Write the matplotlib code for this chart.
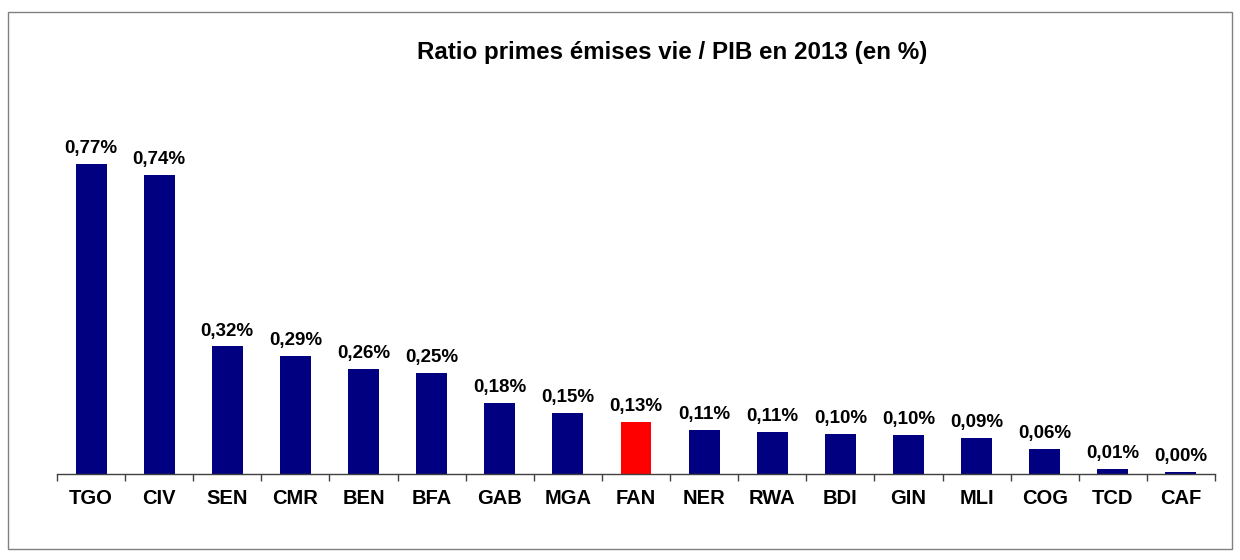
import numpy as np
import matplotlib.pyplot as plt
from matplotlib.patches import Rectangle

plt.rcParams['font.family'] = ['Liberation Sans', 'DejaVu Sans']

# donnees
pays = ["TGO", "CIV", "SEN", "CMR", "BEN", "BFA", "GAB", "MGA", "FAN",
        "NER", "RWA", "BDI", "GIN", "MLI", "COG", "TCD", "CAF"]
ratio = [0.772, 0.745, 0.318, 0.294, 0.261, 0.252, 0.177, 0.152, 0.130,
         0.109, 0.105, 0.100, 0.097, 0.091, 0.062, 0.012, 0.004]
etiquettes = ["0,77%", "0,74%", "0,32%", "0,29%", "0,26%", "0,25%", "0,18%",
              "0,15%", "0,13%", "0,11%", "0,11%", "0,10%", "0,10%", "0,09%",
              "0,06%", "0,01%", "0,00%"]
surligne = "FAN"

W, H = 1240, 560
fig = plt.figure(figsize=(W / 100, H / 100), dpi=100)

# cadre exterieur
fig.patches.append(Rectangle((8 / W, 1 - 549 / H), (1232 - 8) / W, (549 - 12) / H,
                             transform=fig.transFigure, fill=False,
                             edgecolor="#808080", linewidth=1.0))

ax = fig.add_axes([57 / W, 1 - 474 / H, (1215 - 57) / W, (474 - 100) / H])

x = np.arange(len(pays))
couleurs = ["#FF0000" if p == surligne else "#000080" for p in pays]
ax.bar(x, ratio, width=0.455, color=couleurs, edgecolor="none", zorder=2)

for xi, v, t in zip(x, ratio, etiquettes):
    ax.annotate(t, (xi, v), xytext=(0, 5), textcoords="offset points",
                ha="center", va="bottom", fontsize=13.5, fontweight="bold")

ax.set_xlim(-0.5, len(pays) - 0.5)
ax.set_ylim(0, (474 - 100) / 401)

ax.set_xticks(x)
ax.set_xticklabels(pays, fontsize=14.5, fontweight="bold")
ax.set_xticks(np.arange(len(pays) + 1) - 0.5, minor=True)
ax.tick_params(axis="x", which="major", length=0, pad=11)
ax.tick_params(axis="x", which="minor", length=5, width=1, color="#404040", direction="out")
ax.set_yticks([])

for s in ["left", "top", "right"]:
    ax.spines[s].set_visible(False)
ax.spines["bottom"].set_color("#404040")
ax.spines["bottom"].set_linewidth(1)

fig.text(672 / W, 1 - 52 / H, "Ratio primes émises vie / PIB en 2013 (en %)",
         ha="center", va="center", fontsize=17.4, fontweight="bold")

fig.savefig("out.png", dpi=100)
